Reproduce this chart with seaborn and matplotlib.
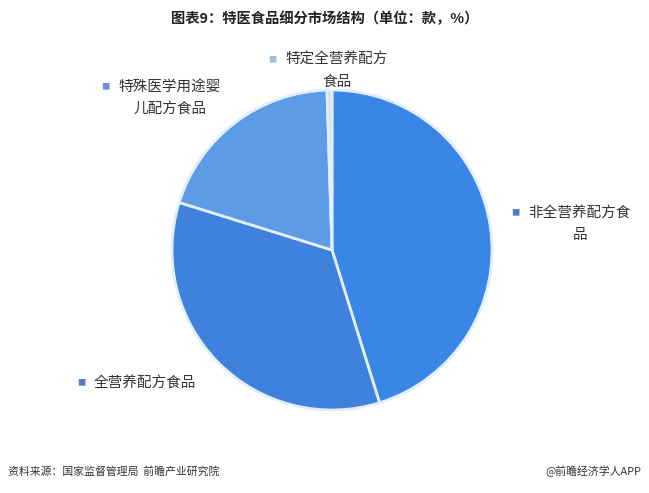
import matplotlib
matplotlib.use("Agg")
import matplotlib.pyplot as plt
import seaborn as sns

# slice data, clockwise from 12 o'clock
categories = ['非全营养配方食品', '全营养配方食品', '特殊医学用途婴儿配方食品', '特定全营养配方食品']
shares = [45.2, 34.6, 19.7, 0.5]
label_lines = ['非全营养配方食\n品', '全营养配方食品', '特殊医学用途婴\n儿配方食品', '特定全营养配方\n食品']
colors = ['#3A86E6', '#3F82DD', '#5C9BE6', '#C9DCF1']
marker_colors = ['#4F7EC2', '#4F7EC2', '#6B92CC', '#A9BCD6']

sns.set_theme(style='white')
plt.rcParams['font.family'] = ['Noto Sans CJK SC', 'DejaVu Sans']

fig = plt.figure(figsize=(6.49, 4.93), dpi=100)
ax = fig.add_axes([(332 - 160) / 649, (493 - 250 - 160) / 493, 320 / 649, 320 / 493])

wedges, _ = ax.pie(shares, colors=colors, startangle=90, counterclock=False,
                   wedgeprops=dict(edgecolor='#E2EEF9', linewidth=2))
ax.set_aspect('equal')
ax.set_xlim(-1.0, 1.0)
ax.set_ylim(-1.0, 1.0)
ax.axis('off')

# label placements (figure pixels: marker x, text x, first line y)
label_pos = [(515, 528, 213), (81, 94, 383), (105, 118, 87), (272, 285, 60)]
for (mx, tx, ty), txt, c in zip(label_pos, label_lines, marker_colors):
    fig.text(mx / 649, 1 - ty / 493, '■', color=c, fontsize=6, ha='center', va='center')
    lines = txt.split('\n')
    fig.text(tx / 649, 1 - ty / 493, lines[0], color='#333333', fontsize=10.5,
             ha='left', va='center')
    if len(lines) > 1:
        # continuation line centred under the first one
        width = len(lines[0]) * 15
        fig.text((tx + width / 2) / 649, 1 - (ty + 22) / 493, lines[1], color='#333333',
                 fontsize=10.5, ha='center', va='center')

fig.text(0.5, 1 - 19 / 493, '图表9：特医食品细分市场结构（单位：款，%）', fontsize=10.3,
         fontweight='bold', ha='center', va='center', color='#222222')
fig.text(8 / 649, 1 - 471 / 493, '资料来源：国家监督管理局  前瞻产业研究院', fontsize=7.8,
         ha='left', va='center', color='#333333')
fig.text(641 / 649, 1 - 471 / 493, '@前瞻经济学人APP', fontsize=7.8,
         ha='right', va='center', color='#333333')

fig.savefig('out.png', dpi=100, facecolor='white')
